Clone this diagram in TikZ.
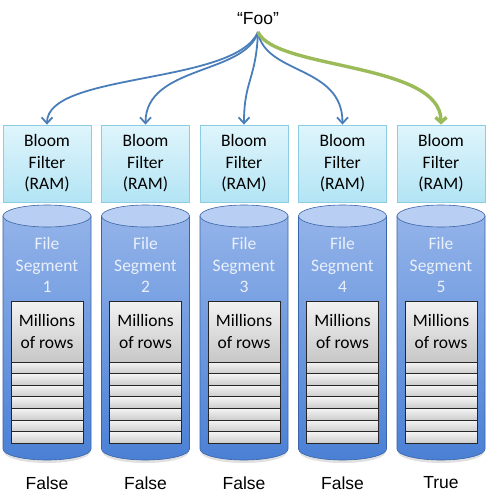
\documentclass[tikz,border=0pt]{standalone}
\usepackage{fontspec}
\setmainfont{Carlito}
\newfontfamily\arialfont{Liberation Sans}
\usepackage{tikz}
\usetikzlibrary{arrows.meta, positioning, calc}

\definecolor{bloomtop}{HTML}{DFF5FC}
\definecolor{bloombot}{HTML}{B3E4F4}
\definecolor{bloomline}{HTML}{8CCDE3}
\definecolor{cyltopfill}{HTML}{B8CEF2}
\definecolor{cylhi}{HTML}{93B3E9}
\definecolor{cyllo}{HTML}{4A80D5}
\definecolor{cylline}{HTML}{3A64A8}
\definecolor{segtext}{HTML}{EAF0FB}
\definecolor{arrowblue}{HTML}{4A7EBB}
\definecolor{arrowgreen}{HTML}{9BBB59}

\tikzset{
	filterbox/.style={draw=bloomline, line width=0.8pt, top color=bloomtop, bottom color=bloombot,
		minimum width=88pt, minimum height=77pt, inner sep=0pt, align=center,
		font=\fontsize{17.5}{21.5}\selectfont},
	cylbody/.style={draw=cylline, line width=0.6pt, top color=cylhi, bottom color=cyllo},
	cyltop/.style={draw=cylline, line width=0.6pt, fill=cyltopfill},
	segtext/.style={text=segtext, align=center, font=\fontsize{17.5}{21.5}\selectfont},
	rowhead/.style={draw=black!85, line width=0.8pt, top color=white!95!black, bottom color=black!22,
		minimum width=72pt, minimum height=61pt, inner sep=0pt, align=center,
		font=\fontsize{17.5}{21.5}\selectfont},
	rowbox/.style={draw=black!85, line width=0.8pt, top color=white!96!black, bottom color=black!20,
		minimum width=72pt, minimum height=11.6pt, inner sep=0pt},
	result/.style={font=\arialfont\fontsize{17.5}{21}\selectfont},
	bluearrow/.style={draw=arrowblue, line width=1.8pt, -{Straight Barb[length=6pt, width=11pt]}},
	greenarrow/.style={draw=arrowgreen, line width=3.4pt, -{Straight Barb[length=5pt, width=11pt]}}
}

\begin{document}
\begin{tikzpicture}[x=1pt, y=-1pt]
	\useasboundingbox (0,0) rectangle (485,498);
	
	\node [result, anchor=south, inner sep=0pt, inner ysep=7pt] (foo) at (258,32) {“Foo”};
	
	\foreach \i/\res in {1/False,2/False,3/False,4/False,5/True}
	{
		\pgfmathsetmacro{\cx}{47+98.5*(\i-1)}
		\node [filterbox] (filter\i) at (\cx,163.5) {Bloom\\Filter\\(RAM)};
		
		% segment cylinder
		\fill [black!12] (\cx-43,452) arc[start angle=180, end angle=0, x radius=43, y radius=11] -- cycle;
		\path [cylbody] (\cx-44,216) -- (\cx-44,449) arc[start angle=180, end angle=0, x radius=44, y radius=11] -- (\cx+44,216) -- cycle;
		\draw [cyltop] (\cx,216) ellipse [x radius=44, y radius=11];
		\node [segtext] (seg\i) at (\cx,265) {File\\Segment\\\i};
		
		\node [rowhead] (rows\i) at (\cx,331.5) {Millions\\of rows};
		\foreach \r in {0,...,6}
		\node [rowbox] (row\i-\r) at (\cx,367.8+11.6*\r) {};
		
		\node [result] (res\i) at (\cx,483) {\res};
	}
	
	\foreach \i/\ax/\ay/\bx/\by in {1/235/85/47/72, 2/245/75/145.5/65, 3/256/80/244/80, 4/265/75/342.5/65}
	\draw [bluearrow] (foo.south) .. controls (\ax,\ay) and (\bx,\by) .. (filter\i.north);
	\draw [greenarrow] (foo.south) .. controls (275,70) and (441,62) .. (filter5.north);
\end{tikzpicture}
\end{document}
